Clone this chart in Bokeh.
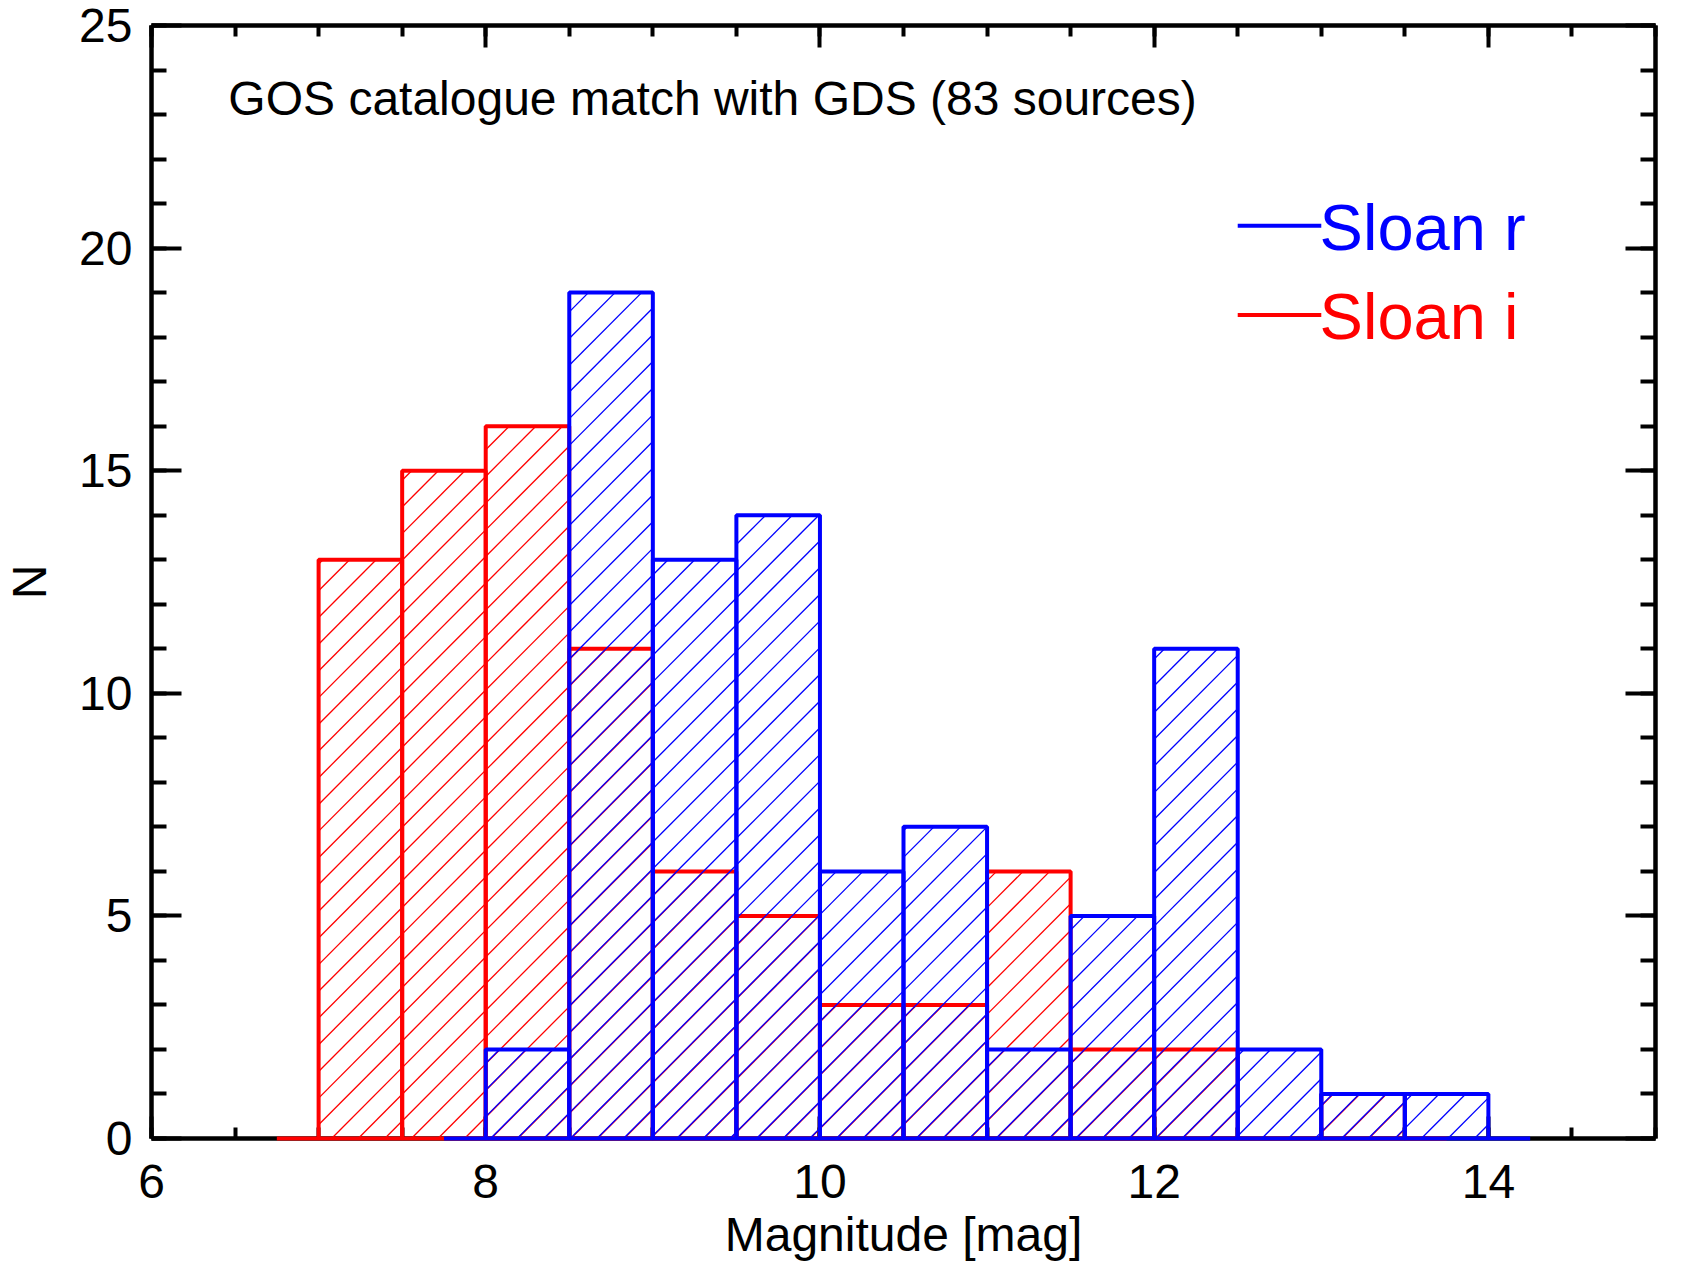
import math
from bokeh.plotting import figure
from bokeh.models import Range1d, LinearAxis, SingleIntervalTicker, Label, ColumnDataSource
from bokeh.embed import file_html
from bokeh.resources import INLINE

# ---- data -------------------------------------------------------------
BIN_WIDTH = 0.5
# Sloan i (red)
i_left = [7.0, 7.5, 8.0, 8.5, 9.0, 9.5, 10.0, 10.5, 11.0, 11.5, 12.0, 12.5, 13.0]
i_counts = [13, 15, 16, 11, 6, 5, 3, 3, 6, 2, 2, 0, 1]
# Sloan r (blue)
r_left = [8.0, 8.5, 9.0, 9.5, 10.0, 10.5, 11.0, 11.5, 12.0, 12.5, 13.0, 13.5]
r_counts = [2, 19, 13, 14, 6, 7, 2, 5, 11, 2, 1, 1]

x_ticks_major = [6, 8, 10, 12, 14]
y_ticks_major = [0, 5, 10, 15, 20, 25]

TITLE = "GOS catalogue match with GDS (83 sources)"
XLABEL = "Magnitude [mag]"
YLABEL = "N"
SERIES = ["Sloan r", "Sloan i"]
COLORS = ["#0000ff", "#ff0000"]

FONT = "Liberation Sans"
FS = "48px"

X_MIN, X_MAX = 6, 15
Y_MIN, Y_MAX = 0, 25

# ---- layout -----------------------------------------------------------
BORDER_L, BORDER_R, BORDER_T, BORDER_B = 145, 25, 25, 130
FIG_W, FIG_H = 1680, 1268
FRAME_W = FIG_W - BORDER_L - BORDER_R
FRAME_H = FIG_H - BORDER_T - BORDER_B
KX = FRAME_W / (X_MAX - X_MIN)   # px per x unit
KY = FRAME_H / (Y_MAX - Y_MIN)   # px per y unit
HATCH_SPACING = 26.7             # px, 45-degree hatch lines

p = figure(width=FIG_W, height=FIG_H,
           x_range=Range1d(X_MIN, X_MAX), y_range=Range1d(Y_MIN, Y_MAX),
           output_backend="svg", toolbar_location=None,
           min_border_left=BORDER_L, min_border_right=BORDER_R,
           min_border_top=BORDER_T, min_border_bottom=BORDER_B)
p.xgrid.visible = False
p.ygrid.visible = False
p.outline_line_color = None
p.background_fill_color = "white"
p.border_fill_color = "white"

xt = SingleIntervalTicker(interval=2, num_minor_ticks=4)
yt = SingleIntervalTicker(interval=5, num_minor_ticks=5)


def style_axis(ax, labels=True):
    ax.axis_line_width = 4.5
    ax.axis_line_color = "black"
    ax.major_tick_in = 22
    ax.major_tick_out = 0
    ax.minor_tick_in = 11
    ax.minor_tick_out = 0
    ax.major_tick_line_width = 4
    ax.minor_tick_line_width = 4
    ax.major_tick_line_color = "black"
    ax.minor_tick_line_color = "black"
    if labels:
        ax.major_label_text_font = FONT
        ax.major_label_text_font_size = FS
        ax.major_label_text_color = "black"
        ax.axis_label_text_font = FONT
        ax.axis_label_text_font_size = FS
        ax.axis_label_text_font_style = "normal"
        ax.axis_label_text_color = "black"
    else:
        ax.major_label_text_color = None
        ax.major_label_text_font_size = "1px"
        ax.major_label_standoff = 0


xa = p.xaxis[0]
xa.ticker = xt
style_axis(xa)
xa.axis_label = XLABEL
xa.major_label_standoff = 26
xa.axis_label_standoff = 7

ya = p.yaxis[0]
ya.ticker = yt
style_axis(ya)
ya.major_tick_in = 30
ya.minor_tick_in = 15
ya.axis_label = YLABEL
ya.major_label_standoff = 19
ya.axis_label_standoff = 20

top = LinearAxis(ticker=xt)
style_axis(top, labels=False)
p.add_layout(top, "above")

right = LinearAxis(ticker=yt)
style_axis(right, labels=False)
right.major_tick_in = 30
right.minor_tick_in = 15
p.add_layout(right, "right")


# ---- histograms -------------------------------------------------------
def hatch_lines(lefts, counts, phase):
    """45-degree hatch lines clipped to each bar (computed in screen px)."""
    xs, ys = [], []
    D = HATCH_SPACING
    for l, h in zip(lefts, counts):
        if h <= 0:
            continue
        X0 = (l - X_MIN) * KX
        X1 = (l + BIN_WIDTH - X_MIN) * KX
        Yt = (h - Y_MIN) * KY
        m0 = math.floor((X0 - Yt - phase) / D) - 1
        m1 = math.ceil((X1 - phase) / D) + 1
        for m in range(m0, m1 + 1):
            c = phase + m * D
            Xa = max(X0, c)
            Xb = min(X1, c + Yt)
            if Xb - Xa > 0.5:
                xs.append([X_MIN + Xa / KX, X_MIN + Xb / KX])
                ys.append([Y_MIN + (Xa - c) / KY, Y_MIN + (Xb - c) / KY])
    return xs, ys


def draw_hist(lefts, counts, color, phase):
    hx, hy = hatch_lines(lefts, counts, phase)
    p.multi_line(xs=hx, ys=hy, line_color=color, line_width=1.3,
                 level="overlay")
    src = ColumnDataSource(dict(
        left=lefts,
        right=[l + BIN_WIDTH for l in lefts],
        top=counts,
        bottom=[0] * len(counts),
    ))
    p.quad(left="left", right="right", top="top", bottom="bottom", source=src,
           fill_color=None, line_color=color, line_width=4, level="overlay")
    # half-bin baseline tails of the step outline
    p.segment(x0=[lefts[0] - BIN_WIDTH / 2, lefts[-1] + BIN_WIDTH],
              x1=[lefts[0], lefts[-1] + 1.5 * BIN_WIDTH],
              y0=[0, 0], y1=[0, 0], line_color=color, line_width=4,
              level="overlay")


draw_hist(i_left, i_counts, COLORS[1], 20.6)
draw_hist(r_left, r_counts, COLORS[0], 20.0)

# ---- annotations ------------------------------------------------------
p.add_layout(Label(x=6.46, y=23.36, text=TITLE, text_font=FONT,
                   text_font_size=FS, text_color="black",
                   text_baseline="alphabetic", text_align="left"))

LEG_X0, LEG_X1, LEG_TX = 12.5, 13.0, 12.99
LEG_LINE_Y = [20.5, 18.5]
LEG_TEXT_Y = [20.47, 18.47]
for name, col, ly, ty in zip(SERIES, COLORS, LEG_LINE_Y, LEG_TEXT_Y):
    p.line([LEG_X0, LEG_X1], [ly, ly], line_color=col, line_width=4)
    p.add_layout(Label(x=LEG_TX, y=ty, text=name, text_font=FONT,
                       text_font_size="65px", text_color=col,
                       text_baseline="alphabetic", text_align="left"))

open("out.html", "w").write(file_html(p, INLINE))
